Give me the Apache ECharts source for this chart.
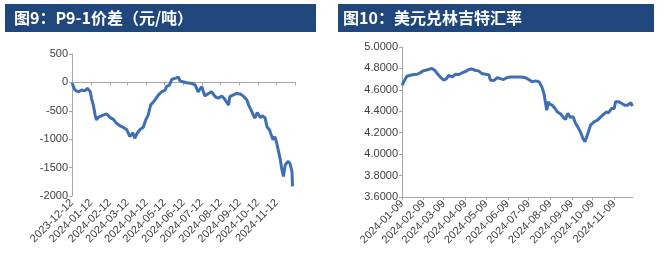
<!DOCTYPE html>
<html><head><meta charset="utf-8">
<script src="https://cdn.jsdelivr.net/npm/echarts@6/dist/echarts.min.js"></script>
<style>html,body{margin:0;padding:0;background:#fff}#c{width:667px;height:263px}</style>
</head><body><div id="c"></div>
<script>
const leftTitle = '图9：P9-1价差（元/吨）';
const rightTitle = '图10：美元兑林吉特汇率';

const leftDates = ['2023-12-12','2023-12-17','2023-12-22','2023-12-28','2024-01-02','2024-01-06','2024-01-11','2024-01-13','2024-01-16','2024-01-19','2024-01-21','2024-01-24','2024-01-27','2024-02-01','2024-02-07','2024-02-12','2024-02-18','2024-02-23','2024-02-29','2024-03-05','2024-03-11','2024-03-16','2024-03-21','2024-03-24','2024-03-28','2024-04-02','2024-04-07','2024-04-11','2024-04-15','2024-04-19','2024-04-24','2024-04-28','2024-05-02','2024-05-07','2024-05-13','2024-05-15','2024-05-20','2024-05-24','2024-05-29','2024-06-04','2024-06-06','2024-06-11','2024-06-17','2024-06-26','2024-07-01','2024-07-06','2024-07-12','2024-07-17','2024-07-23','2024-07-28','2024-08-03','2024-08-08','2024-08-14','2024-08-19','2024-08-25','2024-08-27','2024-09-02','2024-09-07','2024-09-13','2024-09-18','2024-09-24','2024-09-27','2024-10-02','2024-10-07','2024-10-11','2024-10-16','2024-10-20','2024-10-24','2024-10-27','2024-10-31','2024-11-02','2024-11-06','2024-11-09','2024-11-12','2024-11-15','2024-11-18','2024-11-20','2024-11-23','2024-11-26','2024-11-28','2024-12-01','2024-12-04','2024-12-07','2024-12-08'];
const leftValues = [-10,-135,-165,-135,-150,-105,-165,-280,-400,-575,-660,-615,-650,-575,-555,-615,-650,-720,-765,-790,-835,-955,-885,-985,-895,-825,-790,-660,-575,-400,-340,-280,-220,-165,-135,-75,-45,55,70,90,30,10,-5,-20,-45,-165,-75,-240,-195,-165,-250,-280,-240,-300,-400,-250,-220,-195,-205,-240,-310,-400,-515,-630,-530,-615,-590,-630,-780,-835,-895,-1010,-955,-1070,-1215,-1365,-1510,-1655,-1450,-1435,-1390,-1435,-1570,-1830];
const leftTickDates = ['2023-12-12','2024-01-12','2024-02-12','2024-03-12','2024-04-12','2024-05-12','2024-06-12','2024-07-12','2024-08-12','2024-09-12','2024-10-12','2024-11-12','2024-12-12'];
const leftLabelDates = leftTickDates.slice(0, 12);

const rightDates = ['2024-01-09','2024-01-11','2024-01-14','2024-01-16','2024-01-21','2024-01-26','2024-01-31','2024-02-04','2024-02-08','2024-02-12','2024-02-16','2024-02-21','2024-02-25','2024-02-28','2024-03-04','2024-03-09','2024-03-13','2024-03-16','2024-03-21','2024-03-26','2024-03-31','2024-04-04','2024-04-09','2024-04-14','2024-04-18','2024-04-23','2024-04-28','2024-05-03','2024-05-08','2024-05-13','2024-05-15','2024-05-20','2024-05-25','2024-05-29','2024-06-03','2024-06-08','2024-06-13','2024-06-20','2024-06-27','2024-07-04','2024-07-09','2024-07-14','2024-07-19','2024-07-24','2024-07-28','2024-07-31','2024-08-02','2024-08-04','2024-08-06','2024-08-08','2024-08-12','2024-08-16','2024-08-19','2024-08-24','2024-08-28','2024-08-31','2024-09-03','2024-09-07','2024-09-11','2024-09-14','2024-09-18','2024-09-22','2024-09-25','2024-09-28','2024-09-30','2024-10-03','2024-10-06','2024-10-11','2024-10-16','2024-10-20','2024-10-25','2024-10-29','2024-11-01','2024-11-05','2024-11-09','2024-11-11','2024-11-15','2024-11-20','2024-11-24','2024-11-28','2024-11-30','2024-12-03','2024-12-05'];
const rightValues = [4.643,4.66,4.705,4.727,4.736,4.743,4.746,4.76,4.777,4.783,4.79,4.80,4.783,4.758,4.72,4.69,4.705,4.736,4.72,4.746,4.743,4.758,4.77,4.79,4.795,4.783,4.777,4.752,4.746,4.74,4.69,4.687,4.715,4.705,4.696,4.715,4.72,4.72,4.72,4.715,4.696,4.675,4.684,4.675,4.628,4.566,4.49,4.41,4.49,4.467,4.457,4.426,4.395,4.374,4.343,4.324,4.38,4.343,4.349,4.293,4.25,4.2,4.147,4.116,4.132,4.21,4.271,4.302,4.318,4.343,4.374,4.395,4.386,4.426,4.426,4.49,4.49,4.473,4.457,4.457,4.442,4.48,4.448];
const rightTickDates = ['2024-01-09','2024-02-09','2024-03-09','2024-04-09','2024-05-09','2024-06-09','2024-07-09','2024-08-09','2024-09-09','2024-10-09','2024-11-09'];

// day number (days since 1970-01-01, UTC) for a YYYY-MM-DD string
function dn(s){const p=s.split('-').map(Number);return Math.round(Date.UTC(p[0],p[1]-1,p[2])/86400000);}
function fmtDay(v){const d=new Date(Math.round(v)*86400000);const m=d.getUTCMonth()+1, dd=d.getUTCDate();return d.getUTCFullYear()+'-'+(m<10?'0':'')+m+'-'+(dd<10?'0':'')+dd;}

const LINE = '#3E6FB5';
const AXIS = '#A6A6A6';
const TXT = '#404040';
const FONT = 'Liberation Sans, Arial, sans-serif';

const chart = echarts.init(document.getElementById('c'), null, {renderer:'canvas'});
chart.setOption({
  animation:false,
  graphic:[
    {type:'rect', shape:{x:5,y:4,width:311,height:28}, style:{fill:'#1F477C'}},
    {type:'text', x:14, y:18, style:{text:leftTitle, fill:'#fff', font:'bold 16px "Noto Sans CJK SC", sans-serif', verticalAlign:'middle'}},
    {type:'rect', shape:{x:338,y:4,width:316,height:28}, style:{fill:'#1F477C'}},
    {type:'text', x:343, y:18, style:{text:rightTitle, fill:'#fff', font:'bold 16px "Noto Sans CJK SC", sans-serif', verticalAlign:'middle'}}
  ],
  grid:[
    {left:72, right:372, top:54, bottom:67},
    {left:402, right:34, top:47, bottom:66}
  ],
  xAxis:[
    {type:'value', gridIndex:0, position:'bottom', min:dn(leftTickDates[0]), max:dn(leftTickDates[12]),
      axisLine:{show:true, onZero:true, lineStyle:{color:AXIS, width:1}},
      axisTick:{show:true, length:3, customValues:leftTickDates.map(dn), lineStyle:{color:AXIS}},
      axisLabel:{show:false}, splitLine:{show:false}},
    {type:'value', gridIndex:0, position:'bottom', min:dn(leftTickDates[0]), max:dn(leftTickDates[12]),
      axisLine:{show:false, onZero:false}, axisTick:{show:false}, splitLine:{show:false},
      axisLabel:{show:true, customValues:leftLabelDates.map(dn), rotate:45, margin:5, fontSize:11, color:TXT, fontFamily:FONT, hideOverlap:false, showMinLabel:true, showMaxLabel:true, formatter:fmtDay}},
    {type:'value', gridIndex:1, position:'bottom', min:dn('2024-01-09'), max:dn('2024-12-06'),
      axisLine:{show:true, onZero:false, lineStyle:{color:AXIS, width:1}},
      axisTick:{show:true, length:3, customValues:rightTickDates.map(dn), lineStyle:{color:AXIS}},
      splitLine:{show:false},
      axisLabel:{show:true, customValues:rightTickDates.map(dn), rotate:45, margin:5, fontSize:11, color:TXT, fontFamily:FONT, hideOverlap:false, showMinLabel:true, formatter:fmtDay}}
  ],
  yAxis:[
    {type:'value', gridIndex:0, min:-2000, max:500, interval:500,
      axisLine:{show:true, lineStyle:{color:AXIS}}, axisTick:{show:true, length:3, lineStyle:{color:AXIS}},
      splitLine:{show:false}, axisLabel:{fontSize:11, color:TXT, fontFamily:FONT, margin:4, formatter:v=>String(v)}},
    {type:'value', gridIndex:1, min:3.6, max:5.0, interval:0.2,
      axisLine:{show:true, lineStyle:{color:AXIS}}, axisTick:{show:true, length:3, lineStyle:{color:AXIS}},
      splitLine:{show:false}, axisLabel:{fontSize:11, color:TXT, fontFamily:FONT, margin:4, formatter:v=>v.toFixed(4)}}
  ],
  series:[
    {type:'line', xAxisIndex:0, yAxisIndex:0, showSymbol:false, symbol:'none',
      data:leftDates.map((d,i)=>[dn(d), leftValues[i]]), lineStyle:{color:LINE, width:3}},
    {type:'line', xAxisIndex:2, yAxisIndex:1, showSymbol:false, symbol:'none',
      data:rightDates.map((d,i)=>[dn(d), rightValues[i]]), lineStyle:{color:LINE, width:3}}
  ]
});
</script></body></html>
